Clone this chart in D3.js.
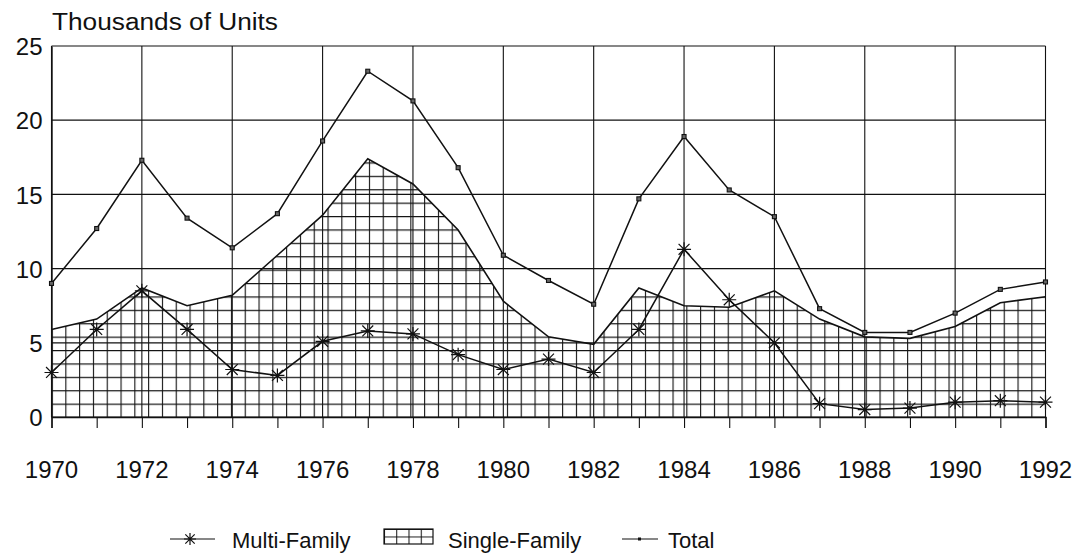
<!DOCTYPE html>
<html>
<head>
<meta charset="utf-8">
<script src="https://cdn.jsdelivr.net/npm/d3@7"></script>
<style>
  html, body { margin: 0; padding: 0; background: #fff; }
  svg { display: block; font-family: "Liberation Sans", Arial, sans-serif; }
</style>
</head>
<body>
<svg id="chart" width="1082" height="553"></svg>
<script>
const years = [1970,1971,1972,1973,1974,1975,1976,1977,1978,1979,1980,1981,1982,1983,1984,1985,1986,1987,1988,1989,1990,1991,1992];
const totalUnits = [9.0,12.7,17.3,13.4,11.4,13.7,18.6,23.3,21.3,16.8,10.9,9.2,7.6,14.7,18.9,15.3,13.5,7.3,5.7,5.7,7.0,8.6,9.1];
const singleFamily = [5.9,6.6,8.7,7.5,8.2,10.9,13.6,17.4,15.7,12.6,7.8,5.4,4.9,8.7,7.5,7.4,8.5,6.6,5.4,5.3,6.1,7.7,8.1];
const multiFamily = [3.0,5.9,8.5,5.9,3.2,2.8,5.1,5.8,5.6,4.2,3.2,3.9,3.0,5.9,11.3,7.9,5.0,0.9,0.5,0.6,1.0,1.1,1.0];
const yTicks = [0,5,10,15,20,25];
const xTickLabels = [1970,1972,1974,1976,1978,1980,1982,1984,1986,1988,1990,1992];
const yTitle = "Thousands of Units";
const legendLabels = ["Multi-Family","Single-Family","Total"];

const svg = d3.select("#chart");
const ink = "#111";

const x = d3.scaleLinear().domain([1970, 1992]).range([51.5, 1045.5]);
const y = d3.scaleLinear().domain([0, 25]).range([417, 46]);

// hatch pattern (small grid)
const defs = svg.append("defs");
const pat = defs.append("pattern")
  .attr("id", "hatch").attr("patternUnits", "userSpaceOnUse")
  .attr("x", 51.5).attr("y", 417)
  .attr("width", 13.8).attr("height", 13.4);
pat.append("path").attr("d", "M0.5,0 V13.4 M0,0.5 H13.8")
  .attr("stroke", ink).attr("stroke-width", 1.2).attr("fill", "none");

const legPat = defs.append("pattern")
  .attr("id", "hatchLeg").attr("patternUnits", "userSpaceOnUse")
  .attr("x", 384).attr("y", 529)
  .attr("width", 12.25).attr("height", 7.5);
legPat.append("path").attr("d", "M0.5,0 V7.5 M0,0.5 H12.25")
  .attr("stroke", ink).attr("stroke-width", 1).attr("fill", "none");

// gridlines
const g = svg.append("g");
g.selectAll("line.hg").data(yTicks).enter().append("line")
  .attr("x1", x(1970)).attr("x2", x(1992))
  .attr("y1", d => y(d)).attr("y2", d => y(d))
  .attr("stroke", ink).attr("stroke-width", 1.2);
g.selectAll("line.vg").data(xTickLabels).enter().append("line")
  .attr("x1", d => x(d)).attr("x2", d => x(d))
  .attr("y1", y(25)).attr("y2", y(0))
  .attr("stroke", ink).attr("stroke-width", 1.1);

// Single-family area
const area = d3.area().x((d, i) => x(years[i])).y0(y(0)).y1(d => y(d));
svg.append("path").datum(singleFamily).attr("d", area)
  .attr("fill", "url(#hatch)").attr("stroke", "none");
const sLine = d3.line().x((d, i) => x(years[i])).y(d => y(d));
svg.append("path").datum(singleFamily).attr("d", sLine)
  .attr("fill", "none").attr("stroke", ink).attr("stroke-width", 1.6);

// x axis ticks
const xAxis = d3.axisBottom(x).tickValues(years).tickSize(11).tickFormat("");
const xa = svg.append("g").attr("transform", `translate(0,${y(0)})`).call(xAxis);
xa.select(".domain").attr("stroke", ink).attr("stroke-width", 1.4);
xa.selectAll(".tick line").attr("stroke", ink).attr("stroke-width", 1.1);

// x labels
svg.append("g").selectAll("text").data(xTickLabels).enter().append("text")
  .attr("x", d => x(d)).attr("y", 478)
  .attr("text-anchor", "middle").attr("font-size", 24).attr("fill", ink)
  .text(d => d);

// y axis labels
const yAxis = d3.axisLeft(y).tickValues(yTicks).tickSize(0).tickPadding(10);
const ya = svg.append("g").attr("transform", `translate(${x(1970)},0)`).call(yAxis);
ya.select(".domain").attr("stroke", ink).attr("stroke-width", 1.4);
ya.selectAll(".tick text").attr("font-size", 24).attr("fill", ink)
  .attr("font-family", "Liberation Sans, Arial, sans-serif")
  .attr("x", -9).attr("dy", "0.36em");

// title
svg.append("text").attr("x", 52).attr("y", 30)
  .attr("font-size", 23).attr("fill", ink)
  .attr("textLength", 226).attr("lengthAdjust", "spacingAndGlyphs")
  .text(yTitle);

// Total line
const tLine = d3.line().x((d, i) => x(years[i])).y(d => y(d));
svg.append("path").datum(totalUnits).attr("d", tLine)
  .attr("fill", "none").attr("stroke", ink).attr("stroke-width", 1.5);
svg.append("g").selectAll("rect").data(totalUnits).enter().append("rect")
  .attr("x", (d, i) => x(years[i]) - 2).attr("y", d => y(d) - 2)
  .attr("width", 4).attr("height", 4)
  .attr("fill", "#666").attr("stroke", ink).attr("stroke-width", 1.1);

// Multi-family line
const mLine = d3.line().x((d, i) => x(years[i])).y(d => y(d));
svg.append("path").datum(multiFamily).attr("d", mLine)
  .attr("fill", "none").attr("stroke", ink).attr("stroke-width", 1.5);

function asterisk(sel, r) {
  const a = r * 0.78;
  sel.append("path")
    .attr("d", `M0,${-r}V${r}M${-r},0H${r}M${-a},${-a}L${a},${a}M${-a},${a}L${a},${-a}`)
    .attr("stroke", ink).attr("stroke-width", 1.2).attr("fill", "none");
}
const stars = svg.append("g").selectAll("g").data(multiFamily).enter().append("g")
  .attr("transform", (d, i) => `translate(${x(years[i])},${y(d)})`);
stars.each(function() { asterisk(d3.select(this), 7); });

// Legend
const lg = svg.append("g");
lg.append("line").attr("x1", 170).attr("x2", 215).attr("y1", 539).attr("y2", 539)
  .attr("stroke", ink).attr("stroke-width", 1.2);
asterisk(lg.append("g").attr("transform", "translate(190,539)"), 6);
lg.append("text").attr("x", 232).attr("y", 548).attr("font-size", 22).attr("fill", ink).text(legendLabels[0]);

lg.append("rect").attr("x", 384).attr("y", 529).attr("width", 49).attr("height", 15)
  .attr("fill", "url(#hatchLeg)").attr("stroke", ink).attr("stroke-width", 1.2);
lg.append("text").attr("x", 448).attr("y", 548).attr("font-size", 22).attr("fill", ink).text(legendLabels[1]);

lg.append("line").attr("x1", 622).attr("x2", 658).attr("y1", 539).attr("y2", 539)
  .attr("stroke", ink).attr("stroke-width", 1.2);
lg.append("rect").attr("x", 638).attr("y", 537.5).attr("width", 3).attr("height", 3).attr("fill", ink);
lg.append("text").attr("x", 668).attr("y", 548).attr("font-size", 22).attr("fill", ink).text(legendLabels[2]);
</script>
</body>
</html>
